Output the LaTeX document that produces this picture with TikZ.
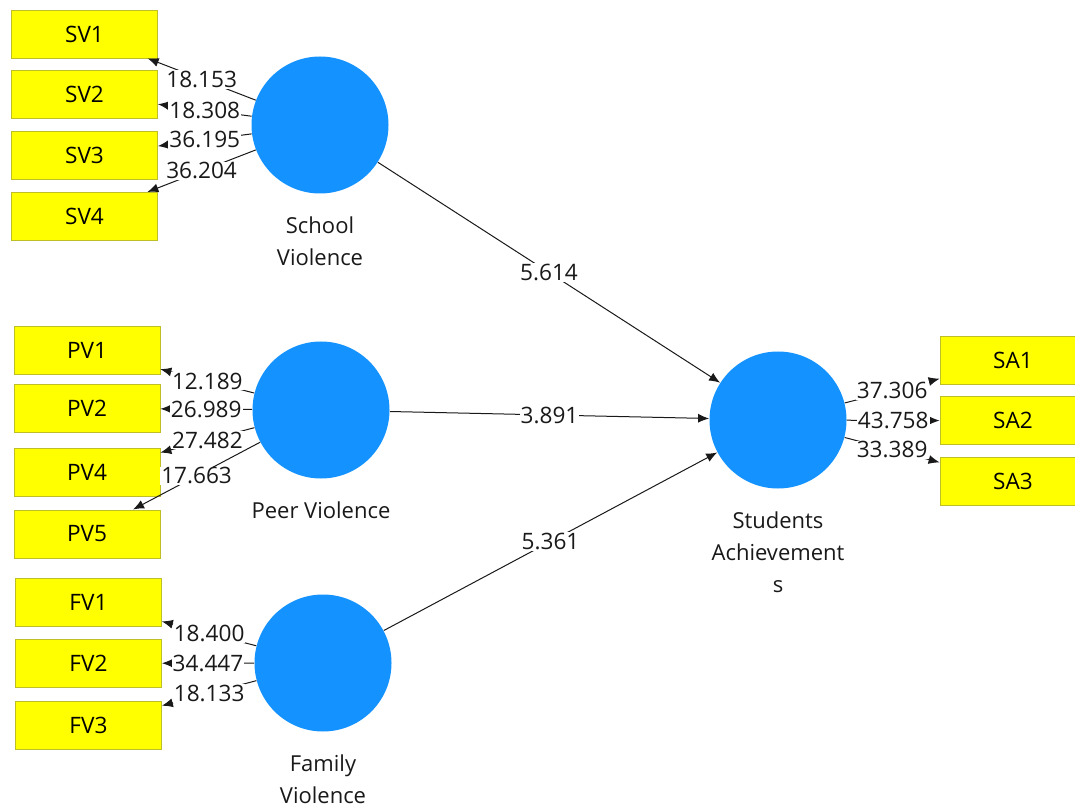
\documentclass[tikz,border=0pt]{standalone}
\usepackage{fontspec}
\setmainfont{Open Sans}
\usetikzlibrary{arrows.meta, positioning}
\definecolor{indyellow}{RGB}{255, 255, 0}
\definecolor{indborder}{RGB}{190, 190, 40}
\definecolor{latblue}{RGB}{20, 146, 255}
\definecolor{txtgray}{RGB}{25, 25, 25}

\begin{document}
\begin{tikzpicture}[
        x=0.5pt, y=-0.5pt,
        node distance=6pt,
        ind/.style={rectangle, draw=indborder, fill=indyellow, minimum width=73pt, minimum height=24pt, inner sep=0pt, font=\fontsize{11.3}{13}\selectfont},
        lat/.style={circle, fill=latblue, minimum size=68.5pt, inner sep=0pt},
        latname/.style={align=center, inner sep=0pt, text=txtgray, font=\fontsize{11}{16}\selectfont},
        arrow/.style={-{Latex[length=5.5pt, width=4.5pt]}, line width=0.5pt, draw=txtgray},
        coef/.style={fill=white, inner sep=0.5pt, text=txtgray, font=\fontsize{11.3}{13}\selectfont}
    ]
        \clip (0,0) rectangle (1075,807);

        % latent variables
        \node[lat] (school) at (320,125) {};
        \node[lat] (peer) at (321,410) {};
        \node[lat] (family) at (323,663) {};
        \node[lat] (ach) at (778,420) {};
        \node[latname, below=11pt of school] (schoolname) {School\\Violence};
        \node[latname, below=11pt of peer] (peername) {Peer Violence};
        \node[latname, below=11pt of family] (familyname) {Family\\Violence};
        \node[latname, below=11pt of ach] (achname) {Students\\Achievement\\s};

        % indicators
        \node[ind] (sv1) at (84.5,34) {SV1};
        \node[ind, below=of sv1] (sv2) {SV2};
        \node[ind, below=of sv2] (sv3) {SV3};
        \node[ind, below=of sv3] (sv4) {SV4};

        \node[ind] (pv1) at (87,350.5) {PV1};
        \node[ind, below=4.5pt of pv1] (pv2) {PV2};
        \node[ind, below=7.5pt of pv2] (pv4) {PV4};
        \node[ind, below=6.5pt of pv4] (pv5) {PV5};

        \node[ind] (fv1) at (88.5,602.5) {FV1};
        \node[ind, below=of fv1] (fv2) {FV2};
        \node[ind, below=6.5pt of fv2] (fv3) {FV3};

        \node[ind] (sa1) at (1013,360) {SA1};
        \node[ind, below=of sa1] (sa2) {SA2};
        \node[ind, below=of sa2] (sa3) {SA3};

        % outer loadings
        \draw[arrow] (school) -- node[coef] {18.153} (sv1);
        \draw[arrow] (school) -- node[coef] {18.308} (sv2);
        \draw[arrow] (school) -- node[coef] {36.195} (sv3);
        \draw[arrow] (school) -- node[coef] {36.204} (sv4);

        \draw[arrow] (peer) -- node[coef] {12.189} (pv1);
        \draw[arrow] (peer) -- node[coef] {26.989} (pv2);
        \draw[arrow] (peer) -- node[coef] {27.482} (pv4);
        \draw[arrow] (peer) -- node[coef] {17.663} (pv5);

        \draw[arrow] (family) -- node[coef] {18.400} (fv1);
        \draw[arrow] (family) -- node[coef] {34.447} (fv2);
        \draw[arrow] (family) -- node[coef] {18.133} (fv3);

        \draw[arrow] (ach) -- node[coef] {37.306} (sa1);
        \draw[arrow] (ach) -- node[coef] {43.758} (sa2);
        \draw[arrow] (ach) -- node[coef] {33.389} (sa3);

        % paths
        \draw[arrow] (school) -- node[coef] {5.614} (ach);
        \draw[arrow] (peer) -- node[coef] {3.891} (ach);
        \draw[arrow] (family) -- node[coef] {5.361} (ach);
    \end{tikzpicture}
\end{document}
